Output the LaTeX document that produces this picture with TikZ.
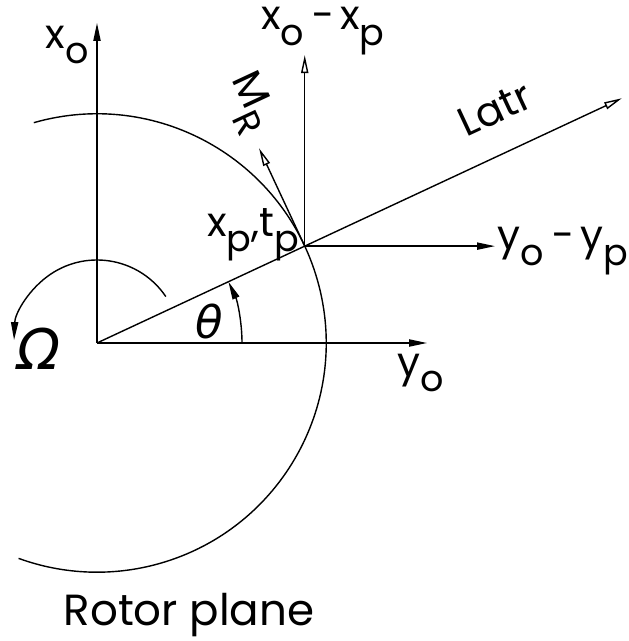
\documentclass[tikz,border=0pt]{standalone}
\usepackage{fontspec}
\setmainfont{Poppins}
\newfontfamily\grk{DejaVu Sans}
\usetikzlibrary{arrows.meta,positioning}
\newcommand{\lowr}[1]{\raisebox{-0.38em}{\fontsize{26}{28}\selectfont #1}}
\tikzset{tipo/.style={-{Triangle[open,length=4.5mm,width=1.8mm]}},
  tipf/.style={-{Triangle[length=4.5mm,width=1.8mm]}},
  lbl/.style={font=\fontsize{29}{32}\selectfont, inner sep=0pt}}

\begin{document}
\begin{tikzpicture}[line width=1pt]
  \useasboundingbox (-2.425,-7.45) rectangle (13.275,8.575);
  \coordinate (O) at (0,0);
  \coordinate (P) at (25:5.73);
  % axes of the rotor plane
  \coordinate (xo) at (0,8.0);
  \coordinate (yo) at (8.25,0);
  \draw[tipf] (O) -- (xo);
  \draw[tipf] (O) -- (yo);
  \node[lbl] (lxo) at (-0.75,7.45) {x\lowr{o}};
  \node[lbl] (lyo) at (8.1,-0.75) {y\lowr{o}};
  % rotor disc
  \draw (O) ++(106:5.73) arc[start angle=106, end angle=-110, radius=5.73];
  \draw[tipf] (O) ++(34:2.075) arc[start angle=34, end angle=178, radius=2.075];
  \node[lbl, font=\fontsize{40}{42}\grk\itshape] (lom) at (-1.45,-0.15) {Ω};
  % blade point
  \coordinate (latr) at (25:14.48);
  \draw[tipo] (O) -- (latr);
  \node[lbl, rotate=25] (llatr) at (9.95,5.85) {Latr};
  \draw[tipf] (O) ++(0:3.625) arc[start angle=0, end angle=25, radius=3.625];
  \node[lbl, font=\fontsize{32}{34}\grk\itshape] (lth) at (2.8,0.55) {θ};
  \node[lbl] (lpt) at (3.9,2.7) {x\lowr{p},t\lowr{p}};
  \path (P) ++(0,4.775) coordinate (xp);
  \path (P) ++(4.757,0) coordinate (yp);
  \path (P) ++(115:2.7) coordinate (mr);
  \draw[tipo] (P) -- (xp);
  \draw[tipf] (P) -- (yp);
  \draw[tipo] (P) -- (mr);
  \node[lbl] (lxp) at (5.65,7.8) {x\lowr{o}\,−\,x\lowr{p}};
  \node[lbl] (lyp) at (11.65,2.3) {y\lowr{o}\,−\,y\lowr{p}};
  \node[lbl, rotate=-65] (lmr) at (3.8,6.0) {M\lowr{R}};
  \node[lbl, font=\fontsize{31}{34}\selectfont] (lrp) at (2.3,-6.8) {Rotor plane};
\end{tikzpicture}
\end{document}
